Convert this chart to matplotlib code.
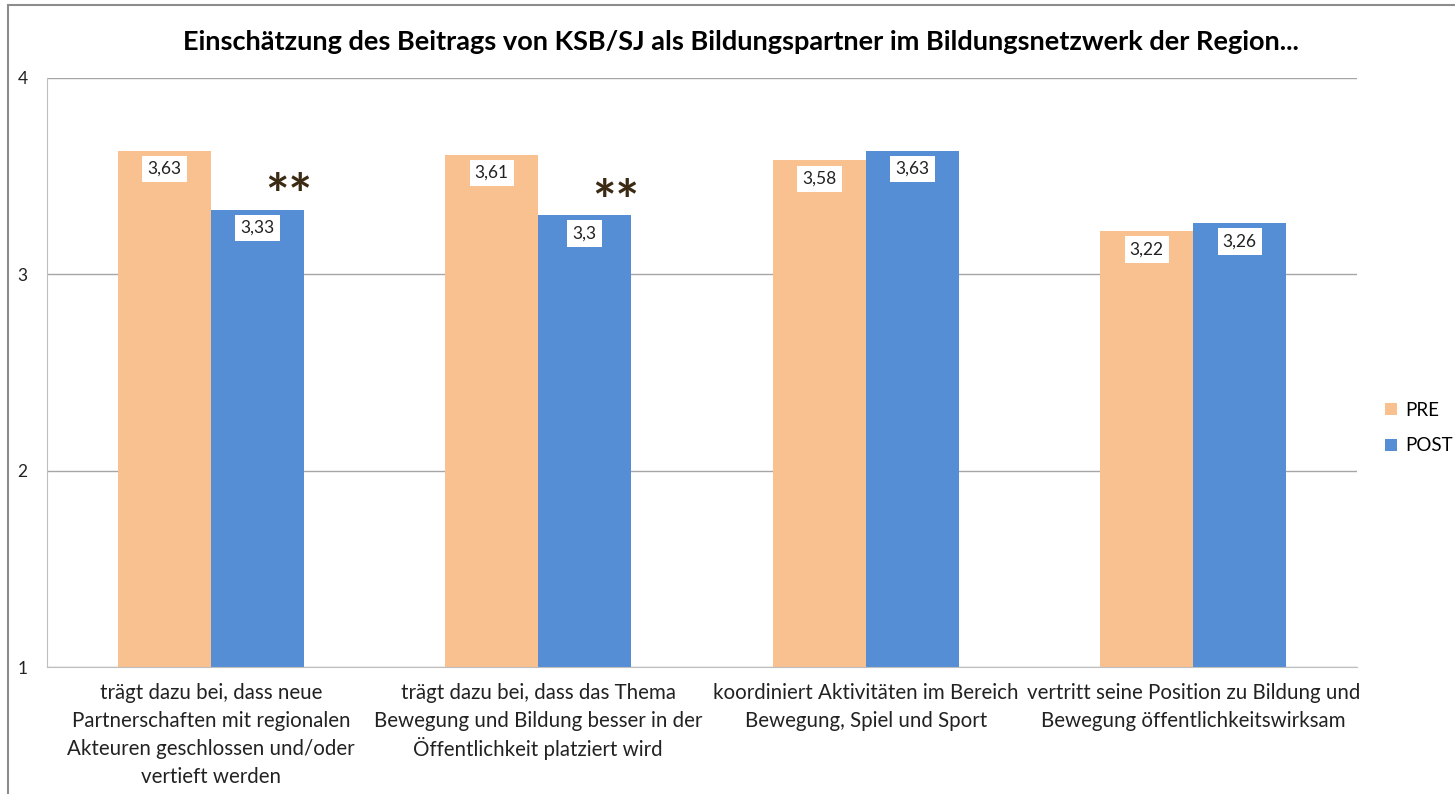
import matplotlib.pyplot as plt
import numpy as np
from matplotlib.patches import Rectangle

plt.rcParams['font.family'] = ['Lato', 'DejaVu Sans']

categories = [
    'trägt dazu bei, dass neue\nPartnerschaften mit regionalen\nAkteuren geschlossen und/oder\nvertieft werden',
    'trägt dazu bei, dass das Thema\nBewegung und Bildung besser in der\nÖffentlichkeit platziert wird',
    'koordiniert Aktivitäten im Bereich\nBewegung, Spiel und Sport',
    'vertritt seine Position zu Bildung und\nBewegung öffentlichkeitswirksam',
]
pre = [3.63, 3.61, 3.58, 3.22]
post = [3.33, 3.30, 3.63, 3.26]
significant = [True, True, False, False]

pre_color = '#F9C090'
post_color = '#558ED5'

fig = plt.figure(figsize=(14.55, 7.94), dpi=100)
ax = fig.add_axes([47 / 1455, 1 - 667 / 794, (1357 - 47) / 1455, (667 - 78) / 794])

x = np.arange(len(categories))
width = 0.284
b1 = ax.bar(x - width / 2, pre, width, bottom=0, color=pre_color, label='PRE', zorder=2)
b2 = ax.bar(x + width / 2, post, width, bottom=0, color=post_color, label='POST', zorder=2)

def fmt(v):
    s = f'{v:.2f}'.rstrip('0').rstrip('.')
    return s.replace('.', ',')

for bars, vals in [(b1, pre), (b2, post)]:
    for rect, v in zip(bars, vals):
        ax.text(rect.get_x() + rect.get_width() / 2, v - 0.093, fmt(v),
                ha='center', va='center', fontsize=12.5, color='#222222', zorder=4,
                bbox=dict(boxstyle='square,pad=0.3', fc='white', ec='none'))

# significance markers
for i, sig in enumerate(significant):
    if sig:
        ax.text(x[i] + width / 2 + 0.095, post[i] + 0.06, '**', ha='center', va='center',
                fontsize=40, fontweight='bold', color='#3B2A14', zorder=4)

ax.set_xlim(-0.5, 3.5)
ax.set_ylim(1, 4)
ax.set_yticks([1, 2, 3, 4])
ax.yaxis.grid(True, color='#A6A6A6', linewidth=1)
ax.set_axisbelow(True)
for s in ['top', 'right']:
    ax.spines[s].set_visible(False)
ax.spines['left'].set_color('#BFBFBF')
ax.spines['bottom'].set_color('#BFBFBF')
ax.tick_params(axis='y', length=0, labelsize=12.5, pad=14, labelcolor='#222222')
ax.set_xticks(x)
ax.set_xticklabels([])
ax.tick_params(axis='x', length=0)

# category labels, one line at a time so the spacing stays even (offsets in px -> pt)
for i, lab in enumerate(categories):
    for j, line in enumerate(lab.split('\n')):
        ax.annotate(line, xy=(x[i], 1), xycoords='data',
                    xytext=(0, -(26 + 28 * j) * 0.72), textcoords='offset points',
                    ha='center', va='center', fontsize=14.8, color='#222222',
                    annotation_clip=False)

fig.suptitle('Einschätzung des Beitrags von KSB/SJ als Bildungspartner im Bildungsnetzwerk der Region...',
             x=741 / 1455, y=1 - 42 / 794, fontsize=19.5, fontweight='bold', va='center')

fig.legend(handles=[b1, b2], labels=['PRE', 'POST'], loc='center left',
           bbox_to_anchor=(1372 / 1455, 1 - 428 / 794), frameon=False, fontsize=13.5,
           handlelength=0.65, handleheight=0.65, handletextpad=0.4, labelspacing=1.0,
           borderpad=0.2)

fig.patches.append(Rectangle((8 / 1455, -0.1), 2, 1 - 5 / 794 + 0.1, transform=fig.transFigure,
                             fill=False, ec='#8C8C8C', lw=1.5))

fig.savefig('out.png', dpi=100)
